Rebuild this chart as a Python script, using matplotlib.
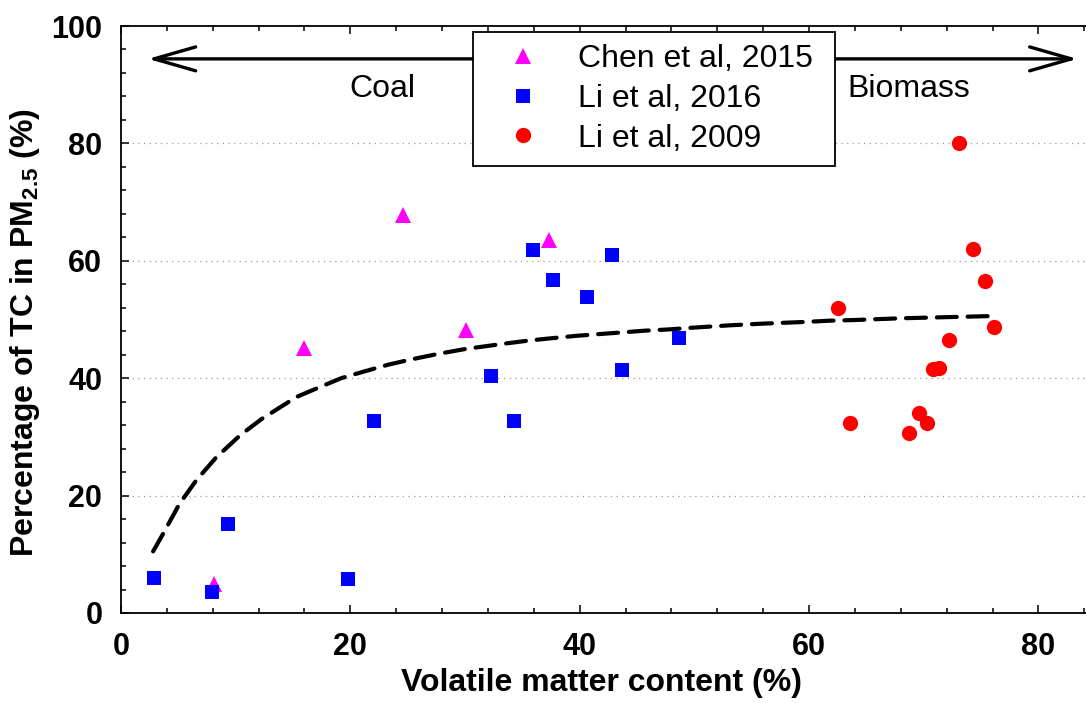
import matplotlib
matplotlib.use("Agg")
import matplotlib.pyplot as plt
from matplotlib.ticker import MultipleLocator

plt.rcParams['font.family'] = ['Liberation Sans', 'DejaVu Sans']
plt.rcParams['mathtext.fontset'] = 'custom'
plt.rcParams['mathtext.bf'] = 'Liberation Sans:bold'
plt.rcParams['mathtext.rm'] = 'Liberation Sans'

# ---- data ----
chen_x = [8.1, 16.0, 24.6, 30.1, 37.3]
chen_y = [5.0, 45.1, 67.8, 48.2, 63.5]

li16_x = [2.9, 7.9, 9.3, 19.8, 22.1, 32.3, 34.3, 35.9, 37.7, 40.6, 42.8, 43.7, 48.7]
li16_y = [6.0, 3.6, 15.1, 5.8, 32.7, 40.4, 32.7, 61.8, 56.7, 53.9, 61.0, 41.4, 46.9]

li09_x = [73.1, 74.3, 75.3, 62.5, 76.1, 72.2, 70.8, 71.3, 63.6, 69.6, 70.3, 68.7]
li09_y = [80.0, 62.0, 56.6, 51.9, 48.8, 46.5, 41.5, 41.8, 32.4, 34.1, 32.4, 30.6]

# dashed fitted curve
fit_x = [2.8, 3.7, 5.1, 6.6, 8.3, 10.4, 12.3, 15.3, 17.35, 19.2, 21.3, 23.3, 25.3,
         27.8, 30.1, 33.5, 35.5, 37.5, 39.6, 41.6, 43.7, 45.7, 47.7, 49.8, 53.0,
         56.0, 59.8, 61.8, 63.8, 67.9, 72.0, 76.2]
fit_y = [10.5, 13.6, 18.6, 22.7, 26.5, 30.3, 33.1, 36.8, 38.5, 40.0, 41.2, 42.3, 43.2,
         44.2, 45.0, 45.9, 46.4, 46.8, 47.2, 47.5, 47.8, 48.1, 48.3, 48.6, 49.0,
         49.3, 49.6, 49.8, 49.9, 50.2, 50.4, 50.6]

legend_labels = ["Chen et al, 2015", "Li et al, 2016", "Li et al, 2009"]
x_ticks = [0, 20, 40, 60, 80]
y_ticks = [0, 20, 40, 60, 80, 100]

fig = plt.figure(figsize=(10.86, 7.03), dpi=100)
ax = fig.add_axes([121/1086, 1 - 613/703, 1 - 121/1086, (613 - 26)/703])

ax.set_xlim(0, 84.15)
ax.set_ylim(0, 100)

# grid lines
for gy in [20, 40, 60, 80]:
    ax.axhline(gy, color='#b89090', lw=0.9, ls=(0, (1, 3.5)), zorder=1)

ax.plot(fit_x, fit_y, color='black', lw=3, ls=(0, (4.8, 2.6)),
        dash_capstyle='round', zorder=2)

ax.plot(chen_x, chen_y, ls='none', marker='^', ms=11.5, mew=0, color='#ff00ff',
        label=legend_labels[0], zorder=3)
ax.plot(li16_x, li16_y, ls='none', marker='s', ms=10, mew=0, color='#0000ff',
        label=legend_labels[1], zorder=3)
ax.plot(li09_x, li09_y, ls='none', marker='o', ms=11, mew=0, color='#ff0000',
        label=legend_labels[2], zorder=3)

# arrow and region labels
ax.annotate('', xy=(2.35, 94.4), xytext=(83.4, 94.4),
            arrowprops=dict(arrowstyle='<->,head_length=3.0,head_width=0.86',
                            lw=2.4, color='black', shrinkA=0, shrinkB=0,
                            mutation_scale=10), zorder=2)
ax.text(22.8, 89.3, 'Coal', fontsize=23, ha='center', va='center')
ax.text(68.7, 89.3, 'Biomass', fontsize=23, ha='center', va='center')

# axes styling
ax.spines['right'].set_visible(False)
for s in ['left', 'bottom', 'top']:
    ax.spines[s].set_linewidth(1.3)
ax.xaxis.set_minor_locator(MultipleLocator(4))
ax.yaxis.set_minor_locator(MultipleLocator(4))
ax.set_xticks(x_ticks)
ax.set_yticks(y_ticks)
ax.tick_params(which='both', direction='in', top=True, right=False, width=1.1)
ax.tick_params(which='major', length=6, pad=13.5, labelsize=22)
ax.tick_params(which='minor', length=3.6)
for lab in ax.get_xticklabels() + ax.get_yticklabels():
    lab.set_fontweight('bold')

ax.set_xlabel('Volatile matter content (%)', fontsize=23, fontweight='bold')
ax.xaxis.label.set_va('center')
ax.xaxis.set_label_coords((601.7 - 121) / 965, (613 - 683) / 587)
ax.set_ylabel(r'Percentage of TC in PM$_{\mathbf{2.5}}$ (%)', fontsize=23,
              fontweight='bold')
ax.yaxis.label.set_va('center')
ax.yaxis.set_label_coords((25 - 121) / 965, (613 - 333) / 587)

lx0, lx1 = 473 / 1086, 835 / 1086
ly1 = 1 - 31.7 / 703
leg = ax.legend(loc='upper left', bbox_to_anchor=(lx0, ly1 - 0.2, lx1 - lx0, 0.2),
                bbox_transform=fig.transFigure, mode='expand', fontsize=23,
                frameon=True, fancybox=False, borderaxespad=0, handlelength=2.3,
                handletextpad=0.6, borderpad=0.4, labelspacing=0.3)
leg.get_frame().set_edgecolor('black')
leg.get_frame().set_linewidth(1.3)
leg.get_frame().set_alpha(1)
leg.set_zorder(10)

fig.savefig('out.png', dpi=100)
